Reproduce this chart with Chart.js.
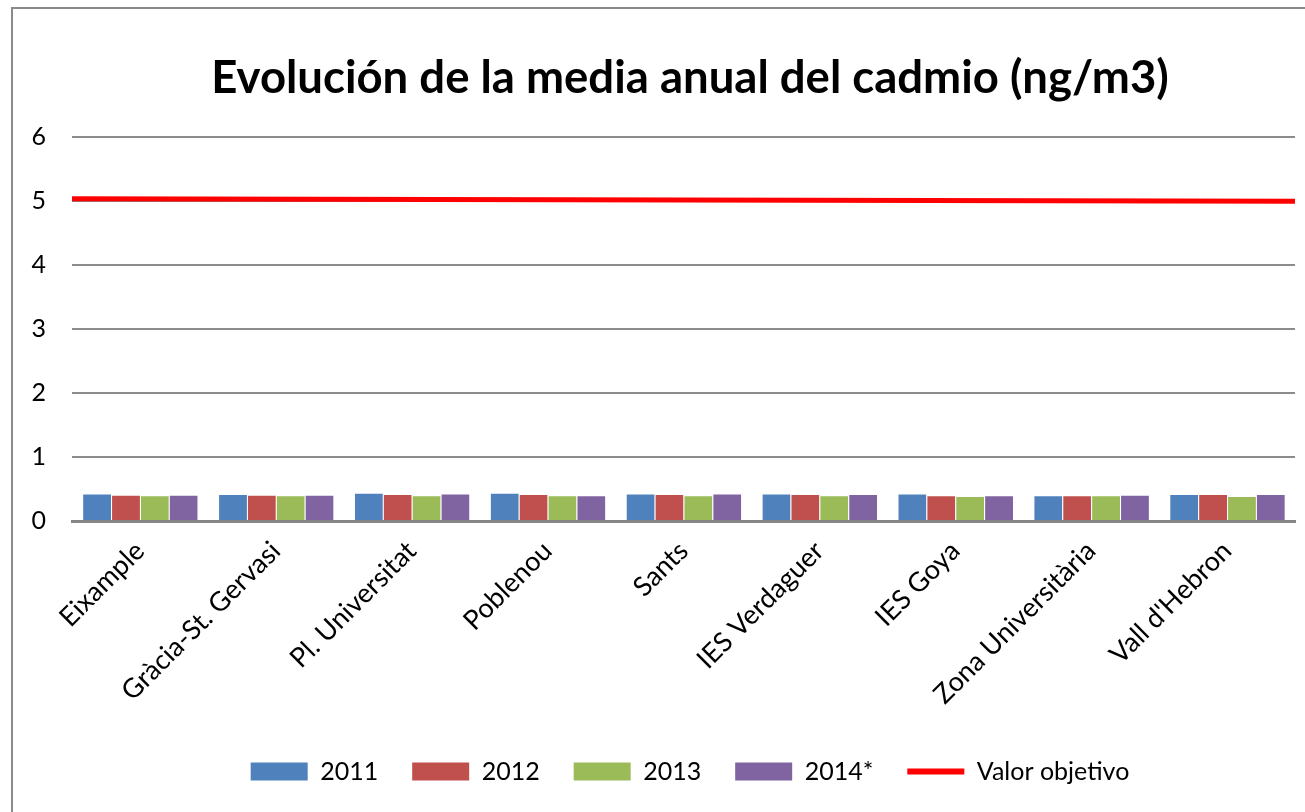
<!DOCTYPE html>
<html>
<head>
<meta charset="utf-8">
<script src="https://cdn.jsdelivr.net/npm/chart.js@4.4.1/dist/chart.umd.min.js"></script>
<style>
  body { margin: 0; background: #fff; overflow: hidden; }
  #wrap { position: relative; width: 1305px; height: 812px; }
  #frame { position: absolute; left: 11px; top: 7px; width: 1400px; height: 900px; border: 2px solid #8a8a8a; }
  canvas { position: absolute; left: 0; top: 0; }
</style>
</head>
<body>
<div id="wrap">
  <div id="frame"></div>
  <canvas id="myChart" width="1305" height="812"></canvas>
</div>
<script>
const estaciones = ["Eixample", "Gràcia-St. Gervasi", "Pl. Universitat", "Poblenou", "Sants",
  "IES Verdaguer", "IES Goya", "Zona Universitària", "Vall d'Hebron"];
const cd2011 = [0.43, 0.42, 0.44, 0.44, 0.43, 0.43, 0.43, 0.40, 0.42];
const cd2012 = [0.41, 0.41, 0.42, 0.42, 0.42, 0.42, 0.40, 0.40, 0.42];
const cd2013 = [0.40, 0.40, 0.40, 0.40, 0.40, 0.40, 0.39, 0.40, 0.39];
const cd2014 = [0.41, 0.41, 0.43, 0.40, 0.43, 0.42, 0.40, 0.41, 0.42];
// target line runs edge to edge: category index -0.5 .. 8.5
const objetivoX = [-0.5, 8.5];
const objetivo = [5.03, 4.99];
const yTicks = [0, 1, 2, 3, 4, 5, 6];

const font = "Lato, 'Open Sans', sans-serif";

const barDs = (label, data, color) => ({
  label: label,
  data: data,
  backgroundColor: color,
  borderColor: "rgba(255,255,255,0.45)",
  borderWidth: { top: 1, left: 1 },
  borderSkipped: "bottom",
  categoryPercentage: 0.85,
  barPercentage: 1.0,
  pointStyle: "rect",
  order: 2,
});

// the original chart is wider than the crop, so title and legend sit right of centre
const shiftBlocks = {
  id: "shiftBlocks",
  afterLayout(chart) {
    chart.titleBlock.left = 2 * 690 - chart.titleBlock.right;
    chart.legend.left = 2 * 690 - chart.legend.right;
  },
};

const ctx = document.getElementById("myChart");
new Chart(ctx, {
  type: "bar",
  data: {
    labels: estaciones,
    datasets: [
      barDs("2011", cd2011, "#4F81BD"),
      barDs("2012", cd2012, "#C0504D"),
      barDs("2013", cd2013, "#9BBB59"),
      barDs("2014*", cd2014, "#8064A2"),
      {
        type: "line",
        label: "Valor objetivo",
        parsing: false,
        data: objetivoX.map((x, i) => ({ x: x, y: objetivo[i] })),
        borderColor: "#FF0000",
        backgroundColor: "#FF0000",
        borderWidth: 5,
        pointRadius: 0,
        pointStyle: "line",
        clip: false,
        order: 1,
      },
    ],
  },
  plugins: [shiftBlocks],
  options: {
    responsive: false,
    animation: false,
    layout: { padding: { left: 0, right: 10, top: 0, bottom: 18 } },
    scales: {
      x: {
        type: "category",
        grid: { display: false, drawTicks: false },
        border: { display: true, color: "#868686", width: 3 },
        afterFit: (s) => { s.height = 204; },
        ticks: { color: "#000", font: { family: font, size: 27 }, minRotation: 45, maxRotation: 45, padding: 14 },
      },
      y: {
        min: 0,
        max: 6,
        afterBuildTicks: (s) => { s.ticks = yTicks.map((v) => ({ value: v })); },
        afterFit: (s) => { s.width = 72; },
        grid: { color: "#8c8c8c", lineWidth: 2, drawTicks: false },
        border: { display: false },
        ticks: { color: "#000", font: { family: font, size: 25 }, padding: 26 },
      },
    },
    plugins: {
      title: {
        display: true,
        text: "Evolución de la media anual del cadmio (ng/m3)",
        color: "#000",
        font: { family: font, size: 45.5, weight: "bold" },
        padding: { top: 51, bottom: 31 },
      },
      legend: {
        position: "bottom",
        labels: {
          color: "#000",
          font: { family: font, size: 25 },
          usePointStyle: true,
          pointStyleWidth: 57,
          boxHeight: 18,
          padding: 34,
          sort: (a, b) => a.datasetIndex - b.datasetIndex,
          generateLabels: (chart) =>
            Chart.defaults.plugins.legend.labels.generateLabels(chart).map((item) => {
              const ds = chart.data.datasets[item.datasetIndex];
              if (ds.type === "line") {
                item.lineWidth = 6;
                item.strokeStyle = "#FF0000";
              } else {
                item.lineWidth = 0;
                item.strokeStyle = ds.backgroundColor;
              }
              return item;
            }),
        },
      },
      tooltip: { enabled: false },
    },
  },
});
</script>
</body>
</html>
